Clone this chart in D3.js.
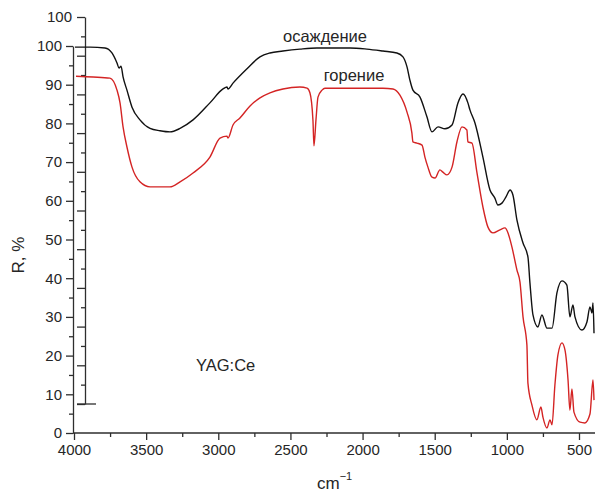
<!DOCTYPE html>
<html>
<head>
<meta charset="utf-8">
<script src="https://cdn.jsdelivr.net/npm/d3@7"></script>
<style>
  html, body { margin: 0; padding: 0; background: #fff; }
  svg { display: block; }
  text { font-family: "Liberation Sans", Arial, sans-serif; fill: #262626; }
</style>
</head>
<body>
<svg id="chart" width="595" height="495"></svg>
<script>
// IR reflectance spectra of YAG:Ce powders (precipitation vs. combustion)
const precipWn = [3993, 3889, 3785, 3737, 3702, 3688, 3674, 3660, 3633, 3598, 3543, 3473, 3404, 3335, 3265, 3175,
  3058, 2967, 2940, 2933, 2898, 2801, 2711, 2642, 2552, 2434, 2316, 2087, 1970, 1859, 1762, 1720, 1692, 1672, 1651,
  1602, 1554, 1519, 1477, 1429, 1380, 1339, 1304, 1270, 1256, 1221, 1166, 1117, 1083, 1062, 1034, 1006, 978, 958,
  930, 888, 854, 840, 819, 785, 757, 722, 687, 653, 618, 584, 563, 542, 528, 480, 445, 424, 410, 403, 396];
const precipR = [99.7, 99.7, 99.5, 98.2, 95.6, 94.3, 94.8, 92.0, 88.6, 84.2, 80.9, 78.7, 78.1, 77.8, 78.7, 80.9,
  85.3, 88.9, 89.4, 88.9, 90.4, 94.1, 97.2, 98.2, 98.7, 99.2, 99.5, 99.5, 99.2, 98.7, 98.2, 97.2, 94.6, 91.2, 88.6,
  86.8, 81.7, 77.8, 79.1, 78.6, 79.6, 85.3, 87.6, 85.3, 83.5, 80.1, 71.3, 62.8, 60.7, 58.9, 59.4, 61.0, 62.8, 61.5,
  55.0, 49.1, 45.5, 38.8, 30.5, 27.4, 30.5, 27.1, 27.1, 36.2, 39.3, 38.2, 30.0, 33.1, 30.0, 26.6, 28.7, 32.6, 31.0, 33.6, 25.8];

const combWn = [3986, 3868, 3751, 3702, 3681, 3660, 3633, 3598, 3543, 3473, 3335, 3265, 3175, 3058, 2988, 2940, 2933,
  2898, 2850, 2780, 2711, 2642, 2552, 2434, 2385, 2365, 2344, 2337, 2323, 2309, 2281, 2261, 2087, 1859, 1789, 1741,
  1692, 1658, 1651, 1623, 1588, 1568, 1547, 1519, 1498, 1464, 1443, 1415, 1380, 1346, 1311, 1277, 1270, 1242, 1207,
  1166, 1131, 1096, 1048, 1013, 992, 965, 930, 909, 888, 861, 854, 826, 792, 764, 750, 722, 701, 687, 667, 646, 618,
  597, 576, 563, 549, 535, 493, 459, 424, 403, 396];
const combR = [92.2, 92.0, 91.7, 88.6, 85.3, 79.1, 73.9, 68.7, 64.9, 63.6, 63.6, 64.9, 67.2, 71.3, 76.2, 76.7, 76.2,
  79.6, 81.4, 84.5, 86.6, 87.9, 88.9, 89.4, 89.1, 87.9, 80.9, 74.2, 80.9, 86.8, 88.6, 89.1, 89.1, 89.1, 88.9, 87.3,
  82.9, 77.5, 75.2, 74.9, 74.4, 71.3, 68.7, 66.1, 65.9, 68.0, 67.4, 66.7, 68.7, 75.2, 79.1, 78.3, 75.2, 74.9, 67.2,
  58.4, 53.2, 51.7, 52.5, 53.0, 51.7, 48.1, 42.1, 39.0, 30.0, 22.7, 12.9, 7.2, 3.4, 6.7, 4.1, 1.3, 3.4, 2.1, 12.4,
  20.2, 23.3, 21.4, 13.7, 5.9, 11.4, 5.4, 2.8, 2.6, 4.9, 13.7, 8.5];

const xTicks = [4000, 3500, 3000, 2500, 2000, 1500, 1000, 500];
const xMinorTicks = [3750, 3250, 2750, 2250, 1750, 1250, 750];
const yTicks = [0, 10, 20, 30, 40, 50, 60, 70, 80, 90, 100];
const yMinorTicks = [5, 15, 25, 35, 45, 55, 65, 75, 85, 95];
const offsetTicks = [0, 10, 20, 30, 40, 50, 60, 70, 80, 90, 100];
const offsetMinorTicks = [5, 15, 25, 35, 45, 55, 65, 75, 85, 95];

const labels = { precip: "осаждение", comb: "горение", sample: "YAG:Ce", yTitle: "R, %" };

const svg = d3.select("#chart");
const axisColor = "#2e2e2e";

const x = d3.scaleLinear().domain([4000, 500]).range([74, 579]);
const y = d3.scaleLinear().domain([0, 100]).range([433, 46]);
// shifted ordinate used for the upper trace
const y2 = d3.scaleLinear().domain([0, 100]).range([404, 17]);

function styleAxis(g) {
  g.selectAll("path, line").attr("stroke", axisColor).attr("stroke-width", 1.3);
  g.selectAll("text").attr("fill", "#262626").style("font-size", "15px")
    .style("font-family", '"Liberation Sans", Arial, sans-serif');
}

// x axis
const xg = svg.append("g").attr("transform", "translate(0,433)");
xg.call(d3.axisBottom(x).tickValues(xTicks).tickSize(7).tickSizeOuter(0).tickPadding(4).tickFormat(d3.format("d")))
  .call(styleAxis);
xg.select(".domain").remove();
xg.append("g").call(d3.axisBottom(x).tickValues(xMinorTicks).tickSize(4).tickFormat(""))
  .call(styleAxis).select(".domain").remove();
svg.append("line").attr("x1", 73).attr("x2", 595).attr("y1", 433).attr("y2", 433)
  .attr("stroke", axisColor).attr("stroke-width", 1.3);

// main y axis
const yg = svg.append("g").attr("transform", "translate(73,0)");
yg.call(d3.axisLeft(y).tickValues(yTicks).tickSize(7).tickSizeOuter(0).tickPadding(4))
  .call(styleAxis);
yg.append("g").call(d3.axisLeft(y).tickValues(yMinorTicks).tickSize(4).tickSizeOuter(0).tickFormat(""))
  .call(styleAxis).select(".domain").remove();

// offset y axis
const y2g = svg.append("g").attr("transform", "translate(85,0)");
y2g.call(d3.axisLeft(y2).tickValues(offsetTicks).tickSize(8).tickSizeOuter(0).tickPadding(5)
  .tickFormat(d => d === 100 ? "100" : ""))
  .call(styleAxis);
y2g.append("g").call(d3.axisLeft(y2).tickValues(offsetMinorTicks).tickSize(4).tickSizeOuter(0).tickFormat(""))
  .call(styleAxis).select(".domain").remove();
svg.append("line").attr("x1", 77).attr("x2", 96).attr("y1", y2(0)).attr("y2", y2(0))
  .attr("stroke", axisColor).attr("stroke-width", 1.3);

// spectra
const line = d3.line().curve(d3.curveMonotoneX).x(d => x(d[0])).y(d => y(d[1]));
svg.append("path")
  .datum(precipWn.map((w, i) => [w, precipR[i]]))
  .attr("d", line).attr("fill", "none").attr("stroke", "#111").attr("stroke-width", 1.4)
  .attr("stroke-linejoin", "round");
svg.append("path")
  .datum(combWn.map((w, i) => [w, combR[i]]))
  .attr("d", line).attr("fill", "none").attr("stroke", "#d42424").attr("stroke-width", 1.4)
  .attr("stroke-linejoin", "round");

// annotations
svg.append("text").attr("x", 325).attr("y", 42).attr("text-anchor", "middle")
  .style("font-size", "16.5px").text(labels.precip);
svg.append("text").attr("x", 354).attr("y", 81).attr("text-anchor", "middle")
  .style("font-size", "16.5px").text(labels.comb);
svg.append("text").attr("x", 196).attr("y", 371)
  .style("font-size", "16.5px").text(labels.sample);

// axis titles
svg.append("text").attr("transform", "translate(24,255) rotate(-90)").attr("text-anchor", "middle")
  .style("font-size", "17px").text(labels.yTitle);
const xt = svg.append("text").attr("x", 317).attr("y", 489).style("font-size", "17px");
xt.append("tspan").text("cm");
xt.append("tspan").attr("dy", -9).style("font-size", "11px").text("−1");
</script>
</body>
</html>
